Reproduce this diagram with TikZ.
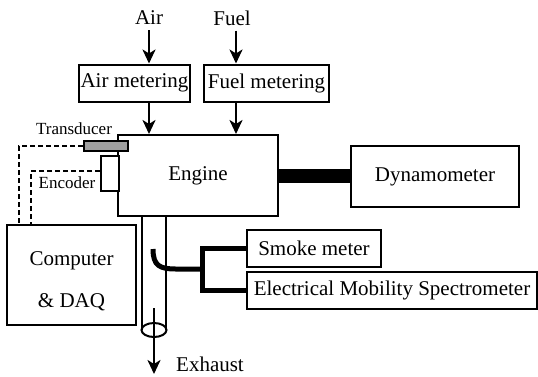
\documentclass[tikz,border=0pt]{standalone}
\usepackage{fontspec}
\setmainfont{Liberation Serif}
\usetikzlibrary{positioning, arrows.meta, calc}

\tikzset{
  blk/.style={draw, line width=2pt, inner sep=0pt, font=\fontsize{21}{24}\selectfont},
  lbl/.style={inner sep=0pt, font=\fontsize{21}{24}\selectfont},
  tag/.style={inner sep=0pt, font=\fontsize{17}{20}\selectfont},
  flow/.style={line width=2.5pt, -{Stealth[length=14pt,width=13pt,inset=4pt]}},
  sig/.style={line width=1.8pt, dash pattern=on 5pt off 3pt},
  wall/.style={line width=2pt},
  probe/.style={line width=5pt},
  shaft/.style={line width=14pt}
}

\begin{document}
\begin{tikzpicture}[x=1pt, y=-1pt]
\useasboundingbox (0,0) rectangle (538,376);

% inputs
\node[lbl] (air) at (149,18) {Air};
\node[lbl] (fuel) at (232,18) {Fuel};
\node[blk, minimum width=111, minimum height=37] (airm) at (134.5,83) {Air metering};
\node[blk, minimum width=125, minimum height=37] (fuelm) at (266.5,83) {Fuel metering};

% engine and load
\node[blk, minimum width=160, minimum height=81] (engine) at (198,175.5) {Engine};
\node[blk, minimum width=168, minimum height=61] (dyno) at (435,176.5) {Dynamometer};

% sensors
\node[blk, fill=gray!75, minimum width=44, minimum height=10] (trans) at (106,146) {};
\node[blk, fill=white, minimum width=18, minimum height=35] (enc) at (110,173.5) {};
\node[tag] (translbl) at (74,129) {Transducer};
\node[tag] (enclbl) at (67,183) {Encoder};

% data acquisition
\node[blk, minimum width=129, minimum height=100] (comp) at (71.5,275) {};
\node[lbl, align=center, font=\fontsize{21}{42}\selectfont] (complbl) at (71.5,281) {Computer\\\& DAQ};

% particle instruments
\node[blk, minimum width=134, minimum height=37] (smoke) at (314,248.5) {Smoke meter};
\node[blk, minimum width=290, minimum height=37] (ems) at (392,290.5) {Electrical Mobility Spectrometer};

% flows in
\draw[flow] ([yshift=-5pt]air.south) -- (air.south |- airm.north);
\draw[flow] (air.south |- airm.south) -- (air.south |- engine.north);
\draw[flow] ([xshift=4pt,yshift=-5pt]fuel.south) -- ([xshift=4pt]fuel.south |- fuelm.north);
\draw[flow] ([xshift=4pt]fuel.south |- fuelm.south) -- ([xshift=4pt]fuel.south |- engine.north);

% shaft
\draw[shaft] (engine.east) -- (engine.east -| dyno.west);

% signal lines
\draw[sig] (trans.west) -| ([xshift=13pt]comp.north west);
\draw[sig] ([yshift=2.5pt]enc.west) -| ([xshift=25pt]comp.north west);

% exhaust pipe
\coordinate (exh) at (154,330);
\coordinate (exhend) at (154,374);
\draw[wall] ([xshift=-12pt]exh) -- ([xshift=-12pt]exh |- engine.south);
\draw[wall] ([xshift=12pt]exh) -- ([xshift=12pt]exh |- engine.south);
\draw[wall] (exh) ellipse [x radius=12.5, y radius=7];
\draw[flow] ([yshift=22pt]exh) -- (exhend);
\node[lbl] (exhlbl) at (210,364) {Exhaust};

% sampling probe
\coordinate (tip) at (153,249);
\coordinate (brn) at (202,269);
\draw[probe] (tip) .. controls (153,266) and (160,269) .. (176,269) -- (brn);
\draw[probe] (smoke.west) -| (brn) |- (ems.west);
\end{tikzpicture}
\end{document}
